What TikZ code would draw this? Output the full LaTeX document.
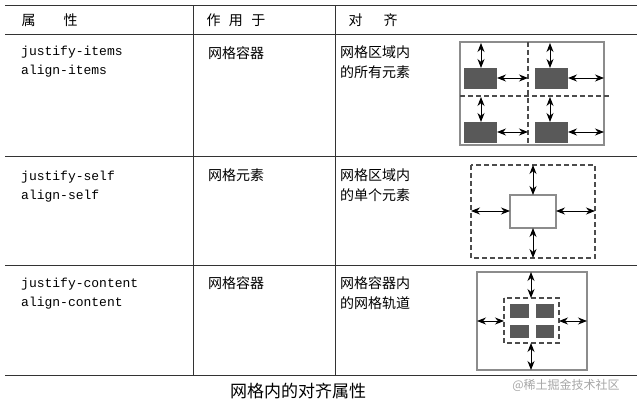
\documentclass[tikz,border=0pt]{standalone}
\usepackage{fontspec}
\setmainfont{Liberation Serif}
\newfontfamily\cjk{Noto Sans CJK SC}
\newfontfamily\mono{Liberation Mono}
\usetikzlibrary{arrows.meta}
\begin{document}
\begin{tikzpicture}[x=1pt,y=-1pt,
  rule/.style={line width=1pt,draw=black!80},
  grayrect/.style={draw=black!45,line width=1.3pt},
  dashrect/.style={draw=black!70,line width=1.3pt,dash pattern=on 5pt off 3pt},
  darkbox/.style={fill=black!65,draw=none},
  dbl/.style={{Stealth[length=9pt,width=7pt]}-{Stealth[length=9pt,width=7pt]},line width=0.9pt},
  hd/.style={anchor=west,font=\cjk\fontsize{14}{16}\selectfont},
  cn/.style={anchor=north west,align=left,font=\cjk\fontsize{14}{20}\selectfont,inner sep=0pt},
  mn/.style={anchor=north west,align=left,font=\mono\fontsize{13}{19}\selectfont,inner sep=0pt}]
\useasboundingbox (0,0) rectangle (637,406);
% table rules
\draw[rule] (5,6) -- (637,6);
\draw[rule] (5,35) -- (637,35);
\draw[rule] (5,157) -- (637,157);
\draw[rule] (5,265) -- (637,265);
\draw[rule] (5,375) -- (637,375);
\draw[rule] (193,6) -- (193,375);
\draw[rule] (335,6) -- (335,375);
% header
\node[hd] (h1) at (18,20) {属\hspace{2em}性};
\node[hd] (h2) at (203,20) {作\hspace{0.6em}用\hspace{0.6em}于};
\node[hd] (h3) at (345,20) {对\hspace{1.5em}齐};
% row texts
\node[mn] (p1) at (21,46) {justify-items\\align-items};
\node[cn] (a1) at (208,46) {网格容器};
\node[cn] (c1) at (340,46) {网格区域内\\的所有元素};
\node[mn] (p2) at (21,171) {justify-self\\align-self};
\node[cn] (a2) at (208,169) {网格元素};
\node[cn] (c2) at (340,169) {网格区域内\\的单个元素};
\node[mn] (p3) at (21,278) {justify-content\\align-content};
\node[cn] (a3) at (208,276) {网格容器};
\node[cn] (c3) at (340,276) {网格容器内\\的网格轨道};
% diagram 1
\draw[grayrect] (460,42) rectangle (604,145);
\draw[dashrect] (528,42) -- (528,145);
\draw[dashrect] (460,96) -- (609,96);
\fill[darkbox] (464,68) rectangle (497,89);
\fill[darkbox] (535,68) rectangle (568,89);
\fill[darkbox] (464,122) rectangle (497,143);
\fill[darkbox] (535,122) rectangle (568,143);
\draw[dbl] (481,43) -- (481,68);
\draw[dbl] (550,43) -- (550,68);
\draw[dbl] (481,97) -- (481,122);
\draw[dbl] (550,97) -- (550,122);
\draw[dbl] (497,78) -- (528,78);
\draw[dbl] (568,78) -- (604,78);
\draw[dbl] (497,132) -- (528,132);
\draw[dbl] (568,132) -- (604,132);
% diagram 2
\draw[dashrect] (471,165) rectangle (595,258);
\draw[grayrect,fill=white] (510,195) rectangle (556,228);
\draw[dbl] (533,165) -- (533,195);
\draw[dbl] (533,228) -- (533,258);
\draw[dbl] (471,211) -- (510,211);
\draw[dbl] (556,211) -- (595,211);
% diagram 3
\draw[grayrect] (477,272) rectangle (587,370);
\draw[dashrect] (504,298) rectangle (559,343);
\fill[darkbox] (510,304) rectangle (529,318);
\fill[darkbox] (536,304) rectangle (554,318);
\fill[darkbox] (510,325) rectangle (529,338);
\fill[darkbox] (536,325) rectangle (554,338);
\draw[dbl] (531,272) -- (531,298);
\draw[dbl] (531,343) -- (531,370);
\draw[dbl] (477,321) -- (504,321);
\draw[dbl] (559,321) -- (587,321);
% caption
\node[font=\cjk\fontsize{17}{19}\selectfont] (cap) at (298,391) {网格内的对齐属性};
\node[font=\cjk\fontsize{12}{14}\selectfont,text=black!35] (wm) at (566,385) {@稀土掘金技术社区};
\end{tikzpicture}
\end{document}
